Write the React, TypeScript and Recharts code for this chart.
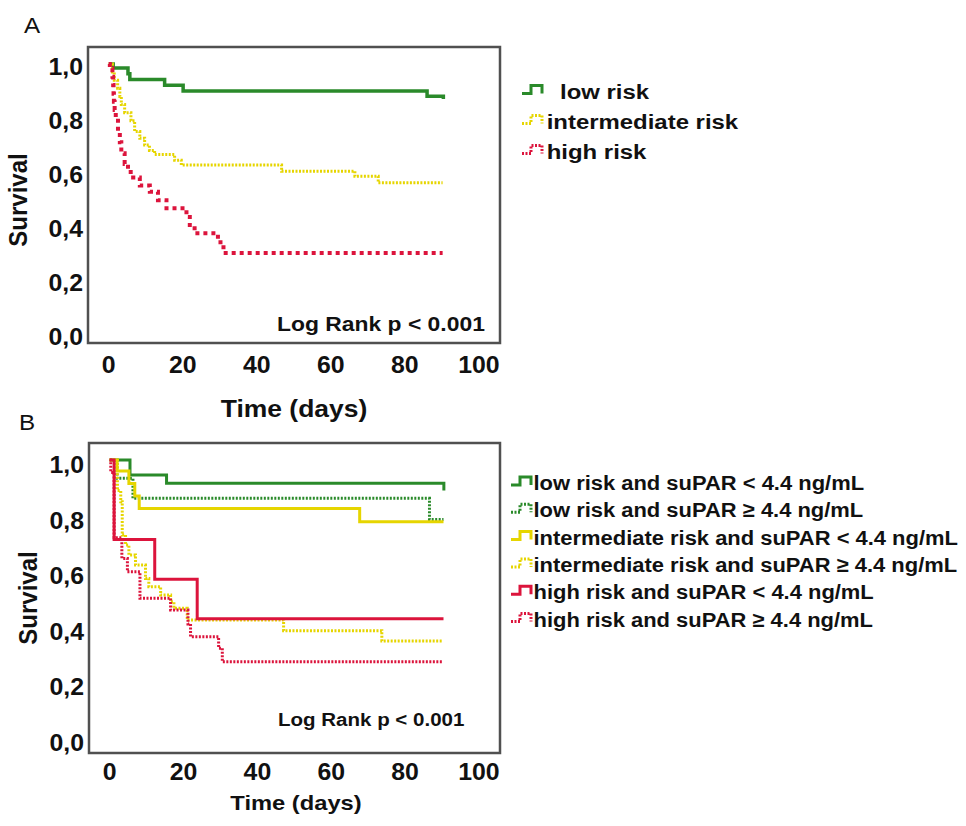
import React from 'react'
import { LineChart, Line, XAxis, YAxis, ReferenceArea } from 'recharts'

type Pt = [number, number]

// Kaplan-Meier estimates as [days, survival]
const lowRiskA: Pt[] = [[0, 1], [1.2, 0.985], [5.2, 0.964], [5.7, 0.943], [15.1, 0.921], [20.1, 0.9], [86, 0.881], [90.4, 0.87]]
const intermediateRiskA: Pt[] = [
  [0, 1], [1, 0.97], [1.5, 0.94], [2.4, 0.91], [3, 0.88], [3.4, 0.85], [4.3, 0.82], [6, 0.79], [7, 0.75],
  [8.4, 0.725], [9.7, 0.7], [11, 0.68], [12.4, 0.665], [17.8, 0.644], [19.6, 0.626], [46.7, 0.603],
  [66.5, 0.584], [72.8, 0.56], [90.2, 0.56],
]
const highRiskA: Pt[] = [
  [0, 1], [0.3, 0.984], [1, 0.953], [1.2, 0.922], [1.3, 0.89], [1.4, 0.86], [1.6, 0.83], [1.9, 0.79],
  [2.5, 0.75], [3, 0.71], [3.4, 0.67], [4.3, 0.63], [5.2, 0.6], [6.6, 0.58], [8.4, 0.55], [11.1, 0.527],
  [13.3, 0.496], [15.6, 0.466], [21, 0.434], [21.9, 0.404], [23.2, 0.373], [29.5, 0.34], [31, 0.3], [90.2, 0.3],
]

const lowLowSuparB: Pt[] = [[0, 1], [5.5, 0.946], [15.4, 0.916], [90.5, 0.89]]
const lowHighSuparB: Pt[] = [[0, 1], [2, 0.934], [6.3, 0.862], [86.6, 0.786], [90.4, 0.786]]
const intLowSuparB: Pt[] = [[0, 1], [2, 0.96], [5.2, 0.915], [6.8, 0.87], [8, 0.825], [67.7, 0.778], [90.4, 0.778]]
const intHighSuparB: Pt[] = [
  [0, 1], [2.1, 0.89], [3, 0.85], [3.4, 0.73], [4.3, 0.694], [5.2, 0.658], [7, 0.622], [9.7, 0.574],
  [10.6, 0.544], [13.8, 0.514], [16.5, 0.49], [17.4, 0.467], [21, 0.424], [47.1, 0.386], [73.7, 0.349], [90.2, 0.349],
]
const highLowSuparB: Pt[] = [[0, 1], [1.2, 0.714], [12.2, 0.571], [23.7, 0.429], [90.4, 0.429]]
const highHighSuparB: Pt[] = [
  [0, 1], [0.3, 0.955], [1.2, 0.72], [3.3, 0.646], [4.8, 0.598], [8.2, 0.503], [16.5, 0.46], [21.2, 0.41],
  [21.9, 0.364], [29.5, 0.323], [30.5, 0.274], [90.2, 0.274],
]

const xTicks = [0, 20, 40, 60, 80, 100]
const yTicks = [0, 0.2, 0.4, 0.6, 0.8, 1]
const X_DOMAIN: [number, number] = [-5.6, 105.7]

const GREEN = '#2a8a2a'
const YELLOW = '#e6d500'
const RED = '#dc143c'
const FONT = '"Liberation Sans", Arial, sans-serif'
const INK = '#111'

interface Curve {
  key: string
  name: string
  pts: Pt[]
  color: string
  dash?: string
  width: number
}

const panelA: Curve[] = [
  { key: 'low', name: 'low risk', pts: lowRiskA, color: GREEN, width: 3.5 },
  { key: 'int', name: 'intermediate risk', pts: intermediateRiskA, color: YELLOW, dash: '2 1.5', width: 3 },
  { key: 'high', name: 'high risk', pts: highRiskA, color: RED, dash: '4 4', width: 4 },
]

const panelB: Curve[] = [
  { key: 'lowLo', name: 'low risk and suPAR < 4.4 ng/mL', pts: lowLowSuparB, color: GREEN, width: 3 },
  { key: 'lowHi', name: 'low risk and suPAR ≥ 4.4 ng/mL', pts: lowHighSuparB, color: GREEN, dash: '2 1.5', width: 3 },
  { key: 'intLo', name: 'intermediate risk and suPAR < 4.4 ng/mL', pts: intLowSuparB, color: YELLOW, width: 3 },
  { key: 'intHi', name: 'intermediate risk and suPAR ≥ 4.4 ng/mL', pts: intHighSuparB, color: YELLOW, dash: '2 1.5', width: 3 },
  { key: 'highLo', name: 'high risk and suPAR < 4.4 ng/mL', pts: highLowSuparB, color: RED, width: 3 },
  { key: 'highHi', name: 'high risk and suPAR ≥ 4.4 ng/mL', pts: highHighSuparB, color: RED, dash: '2 1.5', width: 3 },
]

// dotted curves go underneath their solid partners
const drawOrderB = ['lowHi', 'lowLo', 'intHi', 'intLo', 'highHi', 'highLo']

const toRows = (pts: Pt[]) => pts.map(([t, s]) => ({ t, s }))
const comma = (v: number) => v.toFixed(1).replace('.', ',')

const XTick = ({ x, y, payload, dy }: any) => (
  <g transform={`translate(${x},${y})`}>
    <text transform="scale(1.08,1)" textAnchor="middle" dy={dy} fontFamily={FONT} fontWeight="bold" fontSize={23} fill={INK}>
      {payload.value}
    </text>
  </g>
)

const YTick = ({ x, y, payload, dy }: any) => (
  <g transform={`translate(${x - 5},${y})`}>
    <text transform="scale(1.08,1)" textAnchor="end" dy={dy} fontFamily={FONT} fontWeight="bold" fontSize={23} fill={INK}>
      {comma(payload.value)}
    </text>
  </g>
)

interface PanelProps {
  curves: Curve[]
  yAxisWidth: number
  xAxisHeight: number
  yDomain: [number, number]
  xTickDy: number
  yTickDy: number
}

function SurvivalPanel({ curves, yAxisWidth, xAxisHeight, yDomain, xTickDy, yTickDy }: PanelProps) {
  return (
    <LineChart width={520} height={430} margin={{ top: 47, right: 20, bottom: 0, left: 0 }}>
      <XAxis
        dataKey="t"
        type="number"
        domain={X_DOMAIN}
        ticks={xTicks}
        allowDataOverflow
        axisLine={false}
        tickLine={false}
        tickSize={0}
        tickMargin={0}
        height={xAxisHeight}
        tick={(p: any) => <XTick {...p} dy={xTickDy} />}
      />
      <YAxis
        type="number"
        domain={yDomain}
        ticks={yTicks}
        allowDataOverflow
        axisLine={false}
        tickLine={false}
        tickSize={0}
        tickMargin={0}
        width={yAxisWidth}
        tick={(p: any) => <YTick {...p} dy={yTickDy} />}
      />
      <ReferenceArea
        x1={X_DOMAIN[0]}
        x2={X_DOMAIN[1]}
        y1={yDomain[0]}
        y2={yDomain[1]}
        fill="none"
        stroke="#505050"
        strokeWidth={2.5}
      />
      {curves.map((c) => (
        <Line
          key={c.key}
          data={toRows(c.pts)}
          dataKey="s"
          name={c.name}
          type="stepAfter"
          stroke={c.color}
          strokeWidth={c.width}
          strokeDasharray={c.dash}
          strokeLinecap="butt"
          dot={false}
          activeDot={false}
          isAnimationActive={false}
        />
      ))}
    </LineChart>
  )
}

const stepGlyph = (x0: number, base: number) =>
  `M${x0},${base - 5} H${x0 + 9} V${base - 13} H${x0 + 20} V${base - 5}`

function LegendRows({ curves, x0, textX, base0, gap, size, stretch }: {
  curves: Curve[]; x0: number; textX: number[]; base0: number; gap: number; size: number; stretch: number
}) {
  return (
    <g>
      {curves.map((c, i) => {
        const base = base0 + i * gap
        return (
          <g key={c.key}>
            <path d={stepGlyph(x0, base)} fill="none" stroke={c.color} strokeWidth={3} strokeDasharray={c.dash ? '2 1.5' : undefined} />
            <g transform={`translate(${textX[i] ?? textX[0]},${base}) scale(${stretch},1)`}>
              <text fontFamily={FONT} fontWeight="bold" fontSize={size} fill={INK}>{c.name}</text>
            </g>
          </g>
        )
      })}
    </g>
  )
}

export default function App() {
  const orderedB = drawOrderB.map((k) => panelB.find((c) => c.key === k)!)
  return (
    <div style={{ position: 'absolute', left: 0, top: 0, width: 966, height: 826, background: '#fff', overflow: 'hidden' }}>
      <div style={{ position: 'absolute', left: 0, top: 0 }}>
        <SurvivalPanel curves={panelA} yAxisWidth={88} xAxisHeight={87} yDomain={[-0.033, 1.063]} xTickDy={30} yTickDy={11} />
      </div>
      <div style={{ position: 'absolute', left: 0, top: 396 }}>
        <SurvivalPanel curves={orderedB} yAxisWidth={89} xAxisHeight={73} yDomain={[-0.054, 1.061]} xTickDy={27} yTickDy={13} />
      </div>

      <svg width={966} height={826} style={{ position: 'absolute', left: 0, top: 0, pointerEvents: 'none' }}>
        <g fontFamily={FONT} fill={INK}>
          <text transform="translate(32,33) scale(1.1,1)" textAnchor="middle" fontSize={22}>A</text>
          <text transform="translate(27,430) scale(1.1,1)" textAnchor="middle" fontSize={22}>B</text>

          <text transform="translate(18,200) rotate(-90) scale(1,1.1)" textAnchor="middle" dy={8.6} fontSize={24} fontWeight="bold">Survival</text>
          <text transform="translate(28,598) rotate(-90) scale(1,1.1)" textAnchor="middle" dy={8.6} fontSize={24} fontWeight="bold">Survival</text>

          <text transform="translate(294,417) scale(1.15,1)" textAnchor="middle" fontSize={23} fontWeight="bold">Time (days)</text>
          <text transform="translate(296,810) scale(1.13,1)" textAnchor="middle" fontSize={21} fontWeight="bold">Time (days)</text>

          <text transform="translate(277,330.5) scale(1.09,1)" fontSize={21} fontWeight="bold">Log Rank p &lt; 0.001</text>
          <text transform="translate(278,726) scale(1.08,1)" fontSize={19} fontWeight="bold">Log Rank p &lt; 0.001</text>
        </g>

        <LegendRows curves={panelA} x0={522} textX={[560, 546.7, 546.7]} base0={98.5} gap={30} size={21} stretch={1.14} />
        <LegendRows curves={panelB} x0={511} textX={[533.5]} base0={490} gap={27.3} size={21} stretch={1.045} />
      </svg>
    </div>
  )
}
